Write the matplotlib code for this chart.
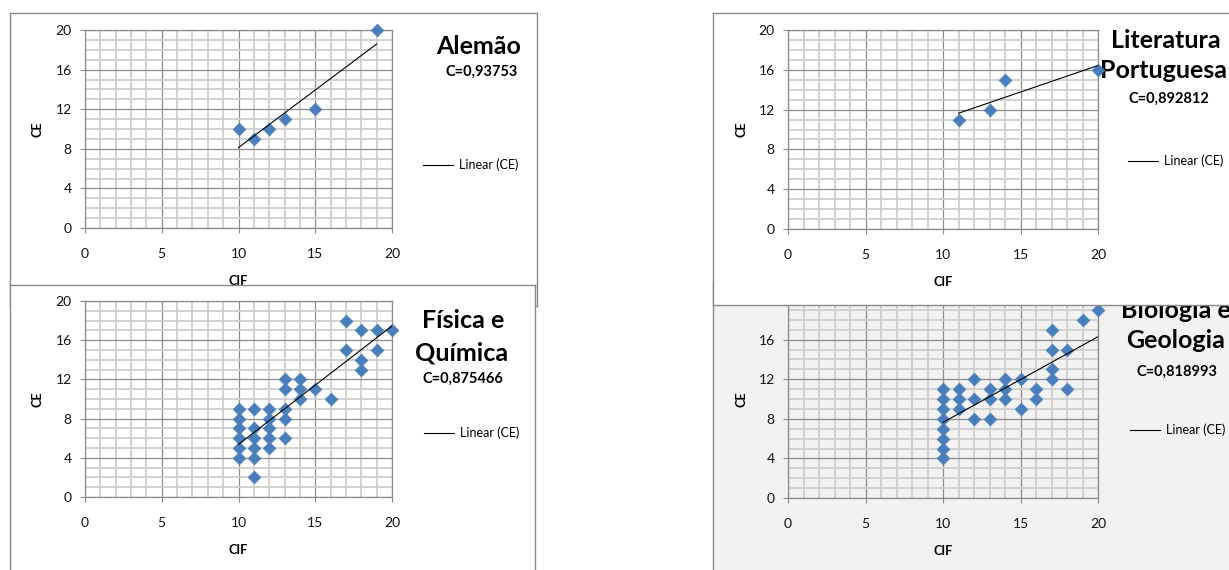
import matplotlib
matplotlib.use("Agg")
import matplotlib.pyplot as plt
from matplotlib.ticker import MultipleLocator
import numpy as np

plt.rcParams['font.family'] = ['Lato', 'DejaVu Sans']

W, H = 1229, 570

# values: CIF (x) and CE (y) per subject
alemao_cif = [10, 11, 12, 13, 15, 19]
alemao_ce = [10, 9, 10, 11, 12, 20]

literatura_cif = [11, 13, 14, 20]
literatura_ce = [11, 12, 15, 16]

fq_cif = [10, 10, 10, 10, 10, 10,
          11, 11, 11, 11, 11, 11,
          12, 12, 12, 12, 12,
          13, 13, 13, 13, 13,
          14, 14, 14, 15, 16,
          17, 17, 18, 18, 18, 19, 19, 20]
fq_ce = [4, 5, 6, 7, 8, 9,
         2, 4, 5, 6, 7, 9,
         5, 6, 7, 8, 9,
         6, 8, 9, 11, 12,
         10, 11, 12, 11, 10,
         15, 18, 13, 14, 17, 15, 17, 17]

bg_cif = [10, 10, 10, 10, 10, 10, 10, 10,
          11, 11, 11, 12, 12, 12, 13, 13, 13,
          14, 14, 14, 15, 15, 16, 16,
          17, 17, 17, 17, 18, 18, 19, 20]
bg_ce = [4, 5, 6, 7, 8, 9, 10, 11,
         9, 10, 11, 8, 10, 12, 8, 10, 11,
         10, 11, 12, 9, 12, 10, 11,
         12, 13, 15, 17, 11, 15, 18, 19]

titles = [["Alemão"], ["Física e", "Química"],
          ["Biologia e", "Geologia"], ["Literatura", "Portuguesa"]]
coefs = ["C=0,93753", "C=0,875466", "C=0,818993", "C=0,892812"]
legend_label = "Linear (CE)"

BLUE = "#4a7ebb"
FRAME = "#8a8a8a"


def to_fig(x, y):
    return (x / W, 1 - y / H)


def rect(x0, y0, x1, y1):
    return [x0 / W, 1 - y1 / H, (x1 - x0) / W, (y1 - y0) / H]


def draw_chart(fig, z, frame, area, cif, ce, title, coef, lay, face="white"):
    # chart area (frame + background)
    bg = fig.add_axes(rect(*frame), zorder=z)
    bg.set_facecolor(face)
    bg.set_xticks([])
    bg.set_yticks([])
    for s in bg.spines.values():
        s.set_color(FRAME)
        s.set_linewidth(1.0)

    # plot area
    ax = fig.add_axes(rect(*area), zorder=z + 1)
    ax.set_facecolor(face)
    ax.set_xlim(0, 20)
    ax.set_ylim(0, 20)
    ax.xaxis.set_major_locator(MultipleLocator(5))
    ax.xaxis.set_minor_locator(MultipleLocator(1))
    ax.yaxis.set_major_locator(MultipleLocator(4))
    ax.yaxis.set_minor_locator(MultipleLocator(1))
    ax.set_axisbelow(True)
    ax.grid(which='minor', color='#cecece', linewidth=1.3)
    ax.grid(which='major', color='#8c8c8c', linewidth=0.9)
    ax.tick_params(which='major', direction='out', length=3.5, width=0.8,
                   color=FRAME, labelsize=10, labelcolor='#111111')
    ax.tick_params(axis='x', which='major', pad=11)
    ax.tick_params(axis='y', which='major', pad=6)
    ax.tick_params(which='minor', length=0)
    for s in ax.spines.values():
        s.set_color(FRAME)
        s.set_linewidth(0.9)

    ax.scatter(cif, ce, marker='D', s=42, color=BLUE, edgecolors=BLUE,
               linewidths=0.5, zorder=3, clip_on=False)

    # linear trendline fitted to the points
    k, b = np.polyfit(cif, ce, 1)
    xs = np.array([min(cif), max(cif)])
    line, = ax.plot(xs, k * xs + b, color='black', linewidth=0.8, zorder=4)

    ax.set_xlabel("CIF", fontsize=9, fontweight='bold')
    ax.set_ylabel("CE", fontsize=9, fontweight='bold')
    ax.xaxis.label.set_va('center')
    ax.yaxis.label.set_va('center')
    ax.xaxis.set_label_coords(0.5, -53 / (area[3] - area[1]))
    ax.yaxis.set_label_coords((lay['ce_x'] - area[0]) / (area[2] - area[0]), 0.5)

    ax.legend([line], [legend_label], loc='center left',
              bbox_to_anchor=to_fig(*lay['legend']), bbox_transform=fig.transFigure,
              frameon=False, borderpad=0, borderaxespad=0,
              handlelength=2.4, handletextpad=0.5, fontsize=9)

    for txt, (tx, ty) in zip(title, lay['title']):
        bg.text(*to_fig(tx, ty), txt, transform=fig.transFigure, ha='center',
                va='center', fontsize=18, fontweight='bold')
    bg.text(*to_fig(*lay['coef']), coef, transform=fig.transFigure, ha='center',
            va='center', fontsize=10.5, fontweight='bold')


fig = plt.figure(figsize=(W / 100, H / 100), dpi=100)

draw_chart(fig, 0, (10, 13, 537, 306), (85, 30, 392, 228),
           alemao_cif, alemao_ce, titles[0], coefs[0],
           {'title': [(479, 46)], 'coef': (482, 72),
            'legend': (423, 165), 'ce_x': 38})

draw_chart(fig, 2, (10, 285, 535, 590), (85, 301, 392, 497),
           fq_cif, fq_ce, titles[1], coefs[1],
           {'title': [(463, 320), (462, 353)], 'coef': (463, 379),
            'legend': (424, 433), 'ce_x': 38})

# bottom right chart sits partly under the top right one
draw_chart(fig, 4, (713, 283, 1250, 590), (788, 300, 1098, 498),
           bg_cif, bg_ce, titles[2], coefs[2],
           {'title': [(1176, 310), (1176, 340)], 'coef': (1177, 372),
            'legend': (1130, 430), 'ce_x': 742}, face='#f2f2f2')

draw_chart(fig, 6, (713, 13, 1250, 305), (788, 30, 1098, 229),
           literatura_cif, literatura_ce, titles[3], coefs[3],
           {'title': [(1166, 40), (1164, 71)], 'coef': (1169, 99),
            'legend': (1128, 161), 'ce_x': 742})

fig.savefig("out.png", dpi=100, facecolor='white')
